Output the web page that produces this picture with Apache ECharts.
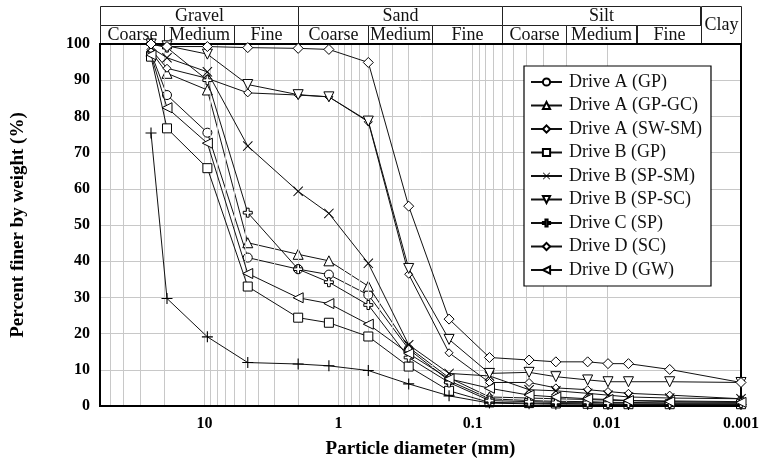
<!DOCTYPE html>
<html>
<head>
<meta charset="utf-8">
<script src="https://cdn.jsdelivr.net/npm/echarts@6/dist/echarts.min.js"></script>
<style>
html,body{margin:0;padding:0;background:#fff;}
#chart{width:762px;height:466px;}
</style>
</head>
<body>
<div id="chart"></div>
<script>
// Sieve / hydrometer particle sizes (mm)
const SIZES = [25, 19, 9.5, 4.75, 2.0, 1.18, 0.6, 0.3, 0.15, 0.075, 0.038, 0.024, 0.0139, 0.0098, 0.0069, 0.0034, 0.001];

const NAMES = ['Drive A (GP)', 'Drive A (GP-GC)', 'Drive A (SW-SM)', 'Drive B (GP)', 'Drive B (GP)',
  'Drive B (SP-SM)', 'Drive B (SP-SC)', 'Drive C (SP)', 'Drive D (SC)', 'Drive D (GW)'];

// Percent finer for each sample
const driveA_GP    = [97.5, 85.9, 75.5, 41.0, 37.8, 36.3, 30.7, 15.7, 7.0, 2.0, 1.5, 1.3, 1.2, 1.0, 1.0, 0.8, 0.8];
const driveA_GPGC  = [98.0, 91.9, 87.3, 45.1, 41.9, 40.1, 33.1, 16.2, 7.8, 2.5, 2.2, 2.0, 1.8, 1.6, 1.5, 1.4, 1.2];
const driveA_SWSM  = [98.5, 93.3, 90.5, 86.5, 85.9, 85.4, 78.5, 36.4, 14.7, 6.5, 6.5, 5.0, 4.5, 4.0, 3.5, 3.0, 2.0];
const driveB_GP1   = [96.5, 76.7, 65.7, 33.0, 24.4, 23.0, 19.2, 10.9, 4.2, 1.0, 0.8, 0.7, 0.6, 0.5, 0.5, 0.5, 0.5];
const driveB_GP2   = [75.4, 29.7, 19.1, 12.0, 11.6, 11.1, 9.8, 6.1, 2.8, 0.8, 0.6, 0.5, 0.5, 0.4, 0.4, 0.4, 0.4];
const driveB_SPSM  = [99.0, 96.2, 92.3, 71.8, 59.3, 53.2, 39.4, 16.9, 9.0, 8.3, 4.5, 4.2, 3.5, 3.0, 2.5, 2.2, 2.0];
const driveB_SPSC  = [100, 99.5, 97.2, 88.8, 86.0, 85.4, 78.7, 38.0, 18.4, 9.0, 9.3, 8.1, 7.2, 6.7, 6.7, 6.7, 6.5];
const driveC_SP    = [100, 99.0, 90.0, 53.4, 37.8, 34.2, 27.9, 13.4, 6.5, 1.5, 1.2, 1.0, 1.0, 0.8, 0.8, 0.8, 0.8];
const driveD_SC    = [100, 99.3, 99.3, 99.0, 98.8, 98.5, 94.9, 55.2, 24.0, 13.4, 12.7, 12.2, 12.2, 11.7, 11.7, 10.1, 6.5];
const driveD_GW    = [97.0, 82.4, 72.6, 36.6, 29.9, 28.3, 22.6, 14.5, 7.5, 4.9, 3.0, 2.5, 2.0, 1.8, 1.5, 1.2, 1.0];

const SERIES_VALUES = [driveA_GP, driveA_GPGC, driveA_SWSM, driveB_GP1, driveB_GP2,
  driveB_SPSM, driveB_SPSC, driveC_SP, driveD_SC, driveD_GW];

// Y tick values
const Y_TICKS = [0, 10, 20, 30, 40, 50, 60, 70, 80, 90, 100];

// Minor vertical grid positions (mm)
const MINOR_GRID = [0.002,0.003,0.004,0.005,0.006,0.007,0.008,0.009,
  0.02,0.03,0.04,0.05,0.06,0.07,0.08,0.09,
  0.2,0.3,0.4,0.5,0.6,0.7,0.8,0.9,
  2,3,4,5,6,7,8,9, 20,30,40,50];

// Soil classification header cells: [from mm, to mm, row bottom, row top, label]
const HEADER_CELLS = [
  [60, 2, 1, 2, 'Gravel'], [2, 0.06, 1, 2, 'Sand'], [0.06, 0.002, 1, 2, 'Silt'], [0.002, 0.001, 0, 2, 'Clay'],
  [60, 20, 0, 1, 'Coarse'], [20, 6, 0, 1, 'Medium'], [6, 2, 0, 1, 'Fine'],
  [2, 0.6, 0, 1, 'Coarse'], [0.6, 0.2, 0, 1, 'Medium'], [0.2, 0.06, 0, 1, 'Fine'],
  [0.06, 0.02, 0, 1, 'Coarse'], [0.02, 0.006, 0, 1, 'Medium'], [0.006, 0.002, 0, 1, 'Fine']
];

const SYMBOLS = [
  {symbol: 'circle', size: 9},
  {symbol: 'triangle', size: 10},
  {symbol: 'diamond', size: 8},
  {symbol: 'rect', size: 9},
  {symbol: 'path://M4.5,0 L5.5,0 L5.5,4.5 L10,4.5 L10,5.5 L5.5,5.5 L5.5,10 L4.5,10 L4.5,5.5 L0,5.5 L0,4.5 L4.5,4.5 Z', size: 11, solid: true},
  {symbol: 'path://M0.7,0 L5,4.3 L9.3,0 L10,0.7 L5.7,5 L10,9.3 L9.3,10 L5,5.7 L0.7,10 L0,9.3 L4.3,5 L0,0.7 Z', size: 10, solid: true},
  {symbol: 'path://M0,0 L10,0 L5,9 Z', size: 10},
  {symbol: 'path://M3.5,0 L6.5,0 L6.5,3.5 L10,3.5 L10,6.5 L6.5,6.5 L6.5,10 L3.5,10 L3.5,6.5 L0,6.5 L0,3.5 L3.5,3.5 Z', size: 9},
  {symbol: 'diamond', size: 10},
  {symbol: 'path://M0,5 L9,0 L9,10 Z', size: 10}
];

const FONT = '"Liberation Serif", "Times New Roman", serif';

function logLabel(v) {
  const l = Math.log10(v);
  const r = Math.round(l);
  if (Math.abs(l - r) > 1e-6) return '';
  return r >= 0 ? String(Math.pow(10, r)) : Math.pow(10, r).toFixed(-r);
}

const chart = echarts.init(document.getElementById('chart'), null, {renderer: 'canvas'});

const dataSeries = NAMES.map((name, i) => {
  const s = SYMBOLS[i];
  return {
    name: name,
    type: 'line',
    xAxisIndex: 0,
    yAxisIndex: 0,
    data: SIZES.map((d, k) => [d, SERIES_VALUES[i][k]]),
    symbol: s.symbol,
    symbolSize: s.size,
    showSymbol: true,
    showAllSymbol: true,
    lineStyle: {color: '#111', width: 1},
    itemStyle: s.solid ? {color: '#000', borderColor: '#000', borderWidth: 0, opacity: 1}
                       : {color: '#fff', borderColor: '#000', borderWidth: 1, opacity: 1},
    emphasis: {disabled: true},
    animation: false,
    z: 3 + i
  };
});

const gridSeries = {
  name: 'grid-minor',
  type: 'line',
  xAxisIndex: 0,
  yAxisIndex: 0,
  data: [],
  silent: true,
  animation: false,
  markLine: {
    silent: true,
    symbol: ['none', 'none'],
    label: {show: false},
    lineStyle: {color: '#c8c8c8', width: 1, type: 'solid'},
    animation: false,
    data: MINOR_GRID.map(v => ({xAxis: v}))
  },
  z: 1
};

const headerSeries = {
  name: 'header',
  type: 'custom',
  xAxisIndex: 1,
  yAxisIndex: 1,
  silent: true,
  animation: false,
  encode: {x: [0, 1], y: [2, 3]},
  data: HEADER_CELLS.map(c => [c[0], c[1], c[2], c[3]]),
  renderItem: function (params, api) {
    const a = api.coord([api.value(0), api.value(3)]);
    const b = api.coord([api.value(1), api.value(2)]);
    const x = Math.round(Math.min(a[0], b[0]));
    const y = Math.round(Math.min(a[1], b[1]));
    const w = Math.round(Math.abs(b[0] - a[0]));
    const h = Math.round(Math.abs(b[1] - a[1]));
    return {
      type: 'rect',
      shape: {x: x + 0.5, y: y + 0.5, width: w, height: h},
      style: {fill: '#fff', stroke: '#222', lineWidth: 1},
      textContent: {
        style: {text: HEADER_CELLS[params.dataIndex][4], font: '18px ' + FONT, fill: '#111'}
      },
      textConfig: {position: 'inside'}
    };
  }
};

const xAxisBase = {
  type: 'log',
  logBase: 10,
  min: 0.001,
  max: 60,
  inverse: true
};

chart.setOption({
  animation: false,
  backgroundColor: '#fff',
  grid: [
    {left: 100, right: 21, top: 44, bottom: 60, show: true, borderColor: '#000', borderWidth: 2, backgroundColor: 'transparent', z: 10},
    {left: 100, right: 21, top: 6, height: 38, show: false}
  ],
  xAxis: [
    Object.assign({}, xAxisBase, {
      gridIndex: 0,
      name: 'Particle diameter (mm)',
      nameLocation: 'middle',
      nameGap: 34,
      nameTextStyle: {fontFamily: FONT, fontWeight: 'bold', fontSize: 19, color: '#000'},
      axisLine: {show: true, lineStyle: {color: '#000', width: 2}},
      axisTick: {show: false},
      axisLabel: {formatter: logLabel, fontFamily: FONT, fontWeight: 'bold', fontSize: 16, color: '#000', margin: 10, showMinLabel: true, showMaxLabel: true},
      splitLine: {show: true, lineStyle: {color: '#c8c8c8', width: 1}},
      minorTick: {show: false},
      minorSplitLine: {show: false}
    }),
    Object.assign({}, xAxisBase, {
      gridIndex: 1,
      show: false,
      axisLine: {show: false},
      axisTick: {show: false},
      axisLabel: {show: false},
      splitLine: {show: false}
    })
  ],
  yAxis: [
    {
      type: 'value',
      gridIndex: 0,
      min: Y_TICKS[0],
      max: Y_TICKS[Y_TICKS.length - 1],
      interval: 10,
      name: 'Percent finer by weight (%)',
      nameLocation: 'middle',
      nameGap: 72,
      nameTextStyle: {fontFamily: FONT, fontWeight: 'bold', fontSize: 19, color: '#000'},
      axisLine: {show: true, lineStyle: {color: '#000', width: 2}},
      axisTick: {show: false},
      axisLabel: {fontFamily: FONT, fontWeight: 'bold', fontSize: 16, color: '#000', margin: 10},
      splitLine: {show: true, lineStyle: {color: '#c8c8c8', width: 1}}
    },
    {
      type: 'value',
      gridIndex: 1,
      min: 0,
      max: 2,
      show: false,
      splitLine: {show: false}
    }
  ],
  legend: {
    data: NAMES.map((n, i) => ({name: n})),
    orient: 'vertical',
    left: 524,
    top: 66,
    padding: [7, 9, 7, 6],
    itemGap: 5.5,
    itemWidth: 31,
    itemHeight: 9,
    backgroundColor: '#fff',
    borderColor: '#000',
    borderWidth: 1.2,
    borderRadius: 0,
    textStyle: {fontFamily: FONT, fontSize: 18, color: '#111', lineHeight: 18, padding: [0, 0, 0, 2]},
    selectedMode: false,
    z: 20
  },
  series: [gridSeries].concat(dataSeries).concat([headerSeries])
});
</script>
</body>
</html>
